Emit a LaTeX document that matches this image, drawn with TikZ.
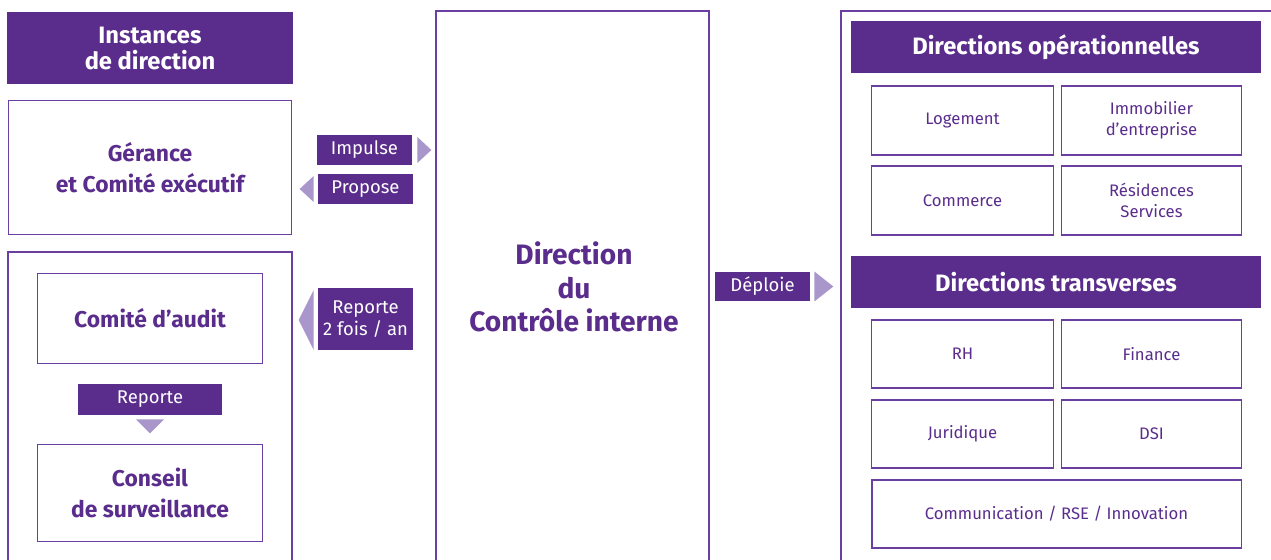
\documentclass[tikz,border=0pt]{standalone}
\usepackage{fontspec}
\setmainfont{Fira Sans}
\usepackage{tikz}
\usetikzlibrary{positioning}

\definecolor{violet}{HTML}{5A2D8C}
\definecolor{lilas}{HTML}{A996CA}
\definecolor{trait}{HTML}{6B3FA0}

\begin{document}
\begin{tikzpicture}[x=0.02cm,y=-0.02cm,
	titre/.style={fill=violet,text=white,font=\fontsize{13.5}{14.8}\selectfont\bfseries,align=center,inner sep=0pt},
	etiq/.style={fill=violet,text=white,font=\fontsize{10.5}{12.5}\selectfont,align=center,inner sep=0pt},
	cadre/.style={draw=trait,line width=1.1pt,text=violet,align=center,inner sep=0pt},
	gras/.style={cadre,font=\fontsize{13}{18}\selectfont\bfseries},
	cellule/.style={cadre,font=\fontsize{9.5}{12}\selectfont,minimum height=1.37cm},
	fleche/.style={fill=lilas}]
	\useasboundingbox (0,0) rectangle (1271,559);
	\clip (0,0) rectangle (1271,559);

	% instances de direction
	\node[titre,minimum width=5.72cm,minimum height=1.44cm] (inst) at (150,48) {Instances\\de direction};
	\node[gras,minimum width=5.66cm,minimum height=2.68cm] (gerance) at (150,167.5) {G\'erance\\et Comit\'e ex\'ecutif};
	\draw[trait,line width=1.1pt] (8,252) rectangle (292,620);
	\node[gras,minimum width=4.5cm,minimum height=1.8cm] (audit) at (150,318.5) {Comit\'e d'audit};
	\node[etiq,minimum width=2.88cm,minimum height=0.62cm] (rep) at (150,399.5) {Reporte};
	\node[gras,minimum width=4.5cm,minimum height=1.94cm] (conseil) at (150,493) {Conseil\\de surveillance};
	\fill[fleche] (rep.south) ++(-14,4) -- ++(28,0) -- ++(-14,14) -- cycle;

	% controle interne
	\draw[trait,line width=1.1pt] (436,11) rectangle (709,620);
	\node[text=violet,font=\fontsize{16}{19}\selectfont\bfseries,align=center] (ci) at (574,287) {Direction\\du\\Contr\^ole interne};

	\node[etiq,minimum width=1.9cm,minimum height=0.6cm] (impulse) at (364.5,150) {Impulse};
	\node[etiq,minimum width=1.9cm,minimum height=0.6cm] (propose) at (365.5,189) {Propose};
	\node[etiq,minimum width=1.9cm,minimum height=1.24cm] (rep2) at (365.5,319) {Reporte\\2 fois / an};
	\node[etiq,minimum width=1.9cm,minimum height=0.58cm] (deploie) at (762.5,286.5) {D\'eploie};
	\fill[fleche] (impulse.east) ++(5,-13) -- ++(0,26) -- ++(14,-13) -- cycle;
	\fill[fleche] (propose.west) ++(-4,-13) -- ++(0,26) -- ++(-14,-13) -- cycle;
	\fill[fleche] (rep2.west) ++(-4,-29) -- ++(0,60) -- ++(-15,-30) -- cycle;
	\fill[fleche] (deploie.east) ++(4,-15) -- ++(0,30) -- ++(19,-15) -- cycle;

	% directions
	\draw[trait,line width=1.1pt] (841,11) rectangle (1320,620);
	\node[titre,minimum width=8.2cm,minimum height=1.04cm] (oper) at (1056,47) {Directions op\'erationnelles};
	\node[cellule,minimum width=3.64cm] (logement) at (962.5,120.5) {Logement};
	\node[cellule,minimum width=3.6cm] (immo) at (1151.5,120.5) {Immobilier\\d'entreprise};
	\node[cellule,minimum width=3.64cm] (commerce) at (962.5,200.5) {Commerce};
	\node[cellule,minimum width=3.6cm] (resid) at (1151.5,200.5) {R\'esidences\\Services};

	\node[titre,minimum width=8.2cm,minimum height=1.04cm] (transv) at (1056,282) {Directions transverses};
	\node[cellule,minimum width=3.64cm] (rh) at (962.5,354) {RH};
	\node[cellule,minimum width=3.6cm] (finance) at (1151.5,354) {Finance};
	\node[cellule,minimum width=3.64cm] (juridique) at (962.5,434) {Juridique};
	\node[cellule,minimum width=3.6cm] (dsi) at (1151.5,434) {DSI};
	\node[cellule,minimum width=7.4cm] (comm) at (1056.5,514) {Communication / RSE / Innovation};
\end{tikzpicture}
\end{document}
